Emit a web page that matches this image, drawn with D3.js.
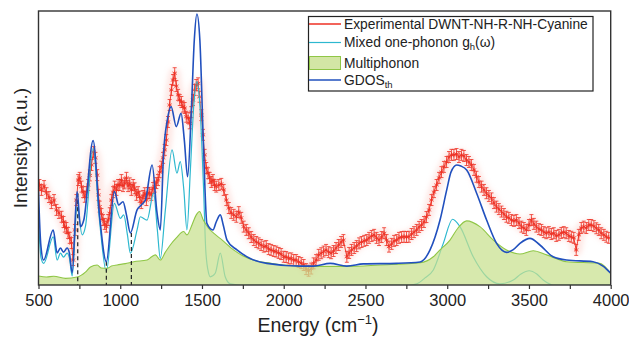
<!DOCTYPE html>
<html>
<head>
<meta charset="utf-8">
<script src="https://cdn.jsdelivr.net/npm/d3@7"></script>
<style>
  body { margin: 0; background: #fff; }
  svg { display: block; }
  text { font-family: "Liberation Sans", Arial, sans-serif; fill: #222; }
</style>
</head>
<body>
<svg width="629" height="338"></svg>
<script>
// experimental points [energy cm-1, intensity a.u.]
var experimental = [[506,36.5],[518,34.7],[534,36.1],[549,33.5],[564,32.1],[579,29.9],[595,31],[610,27.4],[625,26.3],[641,24.9],[653,23],[661,21.3],[671,20.8],[681,19],[691,17.2],[702,15.3],[712,9.1],[723,20.1],[732,31],[743,38.3],[752,39.1],[763,35.9],[773,33.9],[783,32.2],[793,33.9],[804,36.5],[814,40],[824,43.8],[836,48.5],[848,46.4],[859,40.1],[867,32.9],[874,28.6],[885,25.9],[895,23.7],[905,22.3],[915,21.3],[926,23.7],[936,26.2],[946,31],[956,33.9],[966,35.9],[977,34.7],[987,36.5],[997,36.5],[1007,38.3],[1017,36.1],[1027,37.1],[1038,39.1],[1048,36.1],[1058,37.1],[1068,34.7],[1079,36.5],[1088,35.3],[1099,32.9],[1109,33.9],[1119,32.2],[1129,29.9],[1140,32.5],[1150,33.5],[1160,31],[1170,33.6],[1180,33.5],[1190,32.9],[1201,35.4],[1211,35.9],[1221,37.2],[1231,38.3],[1241,41.2],[1251,43.2],[1262,46.4],[1272,49.3],[1282,52.9],[1292,59.5],[1302,65.7],[1313,71.2],[1323,74.8],[1333,77.3],[1343,72.6],[1354,69.4],[1364,67.5],[1374,66.8],[1384,65.1],[1394,64.6],[1404,61.4],[1415,61],[1425,59],[1435,63.1],[1445,67.5],[1455,71.2],[1465,73],[1476,73.6],[1485,68.7],[1496,62],[1506,54.8],[1516,47.5],[1526,42.7],[1537,40.8],[1547,39.1],[1557,37.6],[1567,38.3],[1577,36.5],[1587,35.9],[1603,36.5],[1618,36.9],[1633,34.7],[1649,31],[1664,28.1],[1679,26.3],[1694,25.6],[1710,24.9],[1725,26.6],[1740,24.5],[1755,21.3],[1771,20.1],[1786,18.9],[1801,17.5],[1817,16.4],[1832,15.7],[1847,15.2],[1862,14.6],[1878,14],[1893,14.2],[1908,13.1],[1923,12.8],[1939,12.4],[1954,12.2],[1969,11.7],[1984,11.3],[2000,10.3],[2015,10.2],[2030,9.7],[2046,9.7],[2061,9.1],[2076,9.1],[2091,8.4],[2107,8],[2122,7.3],[2137,5.8],[2152,5.2],[2168,6],[2183,7.9],[2198,9.1],[2214,11],[2229,11.6],[2244,12.2],[2259,12.8],[2275,12],[2290,11.6],[2305,12.4],[2320,13.5],[2336,14.6],[2351,15.7],[2365,16.4],[2386,10.3],[2400,11.7],[2415,12.8],[2431,13.5],[2446,14.2],[2461,15.2],[2476,15.7],[2492,16.1],[2508,16.4],[2522,17.2],[2538,17.9],[2553,18.3],[2568,17.2],[2583,16.4],[2599,17.5],[2614,18.9],[2629,16.4],[2644,14],[2660,15],[2675,16.1],[2691,16.4],[2705,17.2],[2721,17.5],[2736,17.6],[2751,17.5],[2766,17.6],[2782,18.6],[2797,19.3],[2813,20.1],[2828,21.2],[2843,21.9],[2858,23],[2873,24.8],[2889,27.4],[2904,31],[2919,33.9],[2935,36.5],[2950,39.1],[2965,41.2],[2980,43.1],[2996,44.9],[3011,46.7],[3026,47.5],[3041,47.5],[3057,47.8],[3072,46.7],[3087,47.5],[3102,47.1],[3118,45.6],[3133,44.9],[3148,43.8],[3164,42],[3179,39.5],[3194,37.6],[3210,35.9],[3225,34.7],[3240,33.5],[3255,32.5],[3271,31.6],[3286,29.9],[3301,28.6],[3316,27.7],[3332,26.8],[3347,25.9],[3362,24.9],[3377,24.5],[3393,23.7],[3408,23.4],[3423,23.7],[3439,22.6],[3454,21.3],[3469,20.8],[3484,20.1],[3500,21.9],[3515,23.7],[3530,22.3],[3545,21.3],[3561,20.4],[3576,20.1],[3591,19.3],[3606,18.9],[3622,19.3],[3637,18.6],[3652,18.9],[3667,17.9],[3683,18.3],[3698,19],[3713,19.3],[3728,18.9],[3744,17.9],[3759,17.6],[3774,17.2],[3789,12.8],[3805,18.3],[3820,20.8],[3835,21.3],[3851,20.8],[3866,21.9],[3881,21.9],[3897,21.5],[3912,20.7],[3927,20.1],[3942,18.9],[3958,18.3],[3973,17.6],[3988,17.2]];
var expErr = 2.0;

// mixed one-phonon g_h(w)
var onePhonon = [[500,24],[506,17],[515,10],[532,7.9],[590,17.6],[614,9.1],[634,11.6],[653,10.2],[675,11.6],[689,9.9],[706,3.3],[736,28.6],[767,18.3],[787,21.3],[834,49.9],[873,23.7],[915,4.9],[964,29.8],[1001,24.3],[1021,25.6],[1044,18.3],[1062,11.6],[1103,20.1],[1123,24.9],[1164,23.7],[1204,33.5],[1227,20.1],[1245,9.7],[1276,27.4],[1317,49.3],[1347,40.8],[1367,45],[1389,34.7],[1408,20.1],[1429,42],[1450,65.7],[1469,74.2],[1487,65.7],[1510,34.7],[1523,12.8],[1539,4.7],[1551,3],[1581,4.3],[1612,11.6],[1642,3],[1673,0.4],[1734,0],[2773,0],[2814,0.4],[2864,2.6],[2915,5.5],[2976,15.2],[3033,24],[3078,21.3],[3159,10.3],[3241,3],[3322,0.4],[3404,1.8],[3451,4],[3501,5.2],[3548,4],[3587,1.8],[3648,0],[4000,0]];

// multiphonon contribution
var multiPhonon = [[500,3.3],[549,2.9],[593,3.2],[665,2.4],[736,2.9],[787,4.7],[818,6.6],[859,7.3],[885,6.2],[920,6.1],[946,6.9],[981,7.3],[1031,7.8],[1082,8.5],[1164,9.1],[1190,10.2],[1215,11],[1245,9.1],[1276,12],[1306,14.6],[1343,17.2],[1388,19.5],[1408,18.3],[1441,22.3],[1465,25.6],[1485,26.8],[1508,23.7],[1539,20.8],[1571,18.9],[1624,16.4],[1693,12.8],[1752,10.6],[1815,9.1],[1917,8],[1999,7.3],[2180,6.8],[2386,6.8],[2589,7.3],[2834,8.1],[2915,10.3],[2956,12.8],[3017,16.4],[3066,20.8],[3119,23.4],[3200,21.3],[3282,16.4],[3363,12.8],[3445,11.3],[3526,12.5],[3608,11],[3730,8.5],[3933,7.9],[4000,4.3]];

// theoretical GDOS
var gdos = [[500,34],[506,24],[515,14],[531,9.1],[590,20.1],[614,11.7],[634,13.5],[653,12],[675,13.5],[689,11.7],[706,4.4],[736,34.1],[757,21.3],[777,23.7],[834,52.7],[873,25.6],[915,8.5],[964,34.1],[991,29.2],[1017,30.4],[1038,25.6],[1062,19],[1103,27.4],[1129,29.2],[1154,31],[1195,43.8],[1225,26.3],[1245,20.1],[1265,48.1],[1288,60.2],[1311,65.1],[1343,57.8],[1372,62.7],[1392,52.9],[1412,39.5],[1435,63.9],[1453,89.4],[1469,98.9],[1487,89.4],[1508,52.9],[1530,22.5],[1567,20.1],[1587,23],[1612,25.6],[1630,21.9],[1653,16.4],[1714,12.8],[1795,9.7],[1897,7.9],[2101,6.9],[2182,6.9],[2284,7.9],[2386,6.9],[2487,7.7],[2691,7.9],[2834,8.4],[2895,12.8],[2956,23.7],[2997,34.7],[3023,41.2],[3058,43.8],[3084,43.4],[3119,42],[3180,33.5],[3241,23.7],[3302,15.2],[3363,11.9],[3402,12.8],[3445,15.2],[3506,17],[3567,14.6],[3648,10.3],[3730,9.1],[3892,8.5],[3953,6.9],[4000,4.3]];

// dashed guide lines [energy, top intensity]
var dashMarks = [[740, 33.5], [915, 8.5], [1068, 19]];

var xMajor = [500, 1000, 1500, 2000, 2500, 3000, 3500, 4000];
var xMinor = [750, 1250, 1750, 2250, 2750, 3250, 3750];
var legendLabels = ["Experimental DWNT-NH-R-NH-Cyanine", "Mixed one-phonon ", "Multiphonon", "GDOS"];

function drawChart() {
    var svg = d3.select("svg"),
        pLeft = 38.5, pRight = 610.7, pTop = 11, pBottom = 285;

    var x = d3.scaleLinear().domain([500, 4000]).range([pLeft, pRight]);
    var y = d3.scaleLinear().domain([0, 100]).range([pBottom, pTop]);

    var red = "#ee3124", cyan = "#2db8cf", blue = "#2150be", greenFill = "#c8e08e", greenLine = "#8fc646";

    var defs = svg.append("defs");
    defs.append("clipPath").attr("id", "plot")
        .append("rect").attr("x", pLeft).attr("y", pTop).attr("width", pRight - pLeft).attr("height", pBottom - pTop);
    defs.append("filter").attr("id", "blur")
        .attr("x", "-10%").attr("y", "-10%").attr("width", "120%").attr("height", "120%")
        .append("feGaussianBlur").attr("stdDeviation", 2.5);

    var g = svg.append("g").attr("clip-path", "url(#plot)");

    var line = d3.line()
        .x(function (d) { return x(d[0]); })
        .y(function (d) { return y(d[1]); });
    var smooth = d3.line()
        .curve(d3.curveMonotoneX)
        .x(function (d) { return x(d[0]); })
        .y(function (d) { return y(d[1]); });
    var area = d3.area()
        .curve(d3.curveMonotoneX)
        .x(function (d) { return x(d[0]); })
        .y0(pBottom)
        .y1(function (d) { return y(d[1]); });

    // faint pink halo behind experimental data
    g.append("path")
        .datum(experimental)
        .attr("fill", "none")
        .attr("stroke", "#f9b5ad")
        .attr("stroke-opacity", 0.3)
        .attr("stroke-width", 12)
        .attr("stroke-linejoin", "round")
        .attr("filter", "url(#blur)")
        .attr("d", line);

    // experimental line, error bars and markers
    g.append("path")
        .datum(experimental)
        .attr("fill", "none")
        .attr("stroke", red)
        .attr("stroke-width", 0.9)
        .attr("d", line);

    var pts = g.selectAll(".pt")
        .data(experimental)
        .enter().append("g")
        .attr("class", "pt")
        .attr("stroke", red)
        .attr("stroke-width", 0.8);

    pts.append("line")
        .attr("x1", function (d) { return x(d[0]); })
        .attr("x2", function (d) { return x(d[0]); })
        .attr("y1", function (d) { return y(d[1] - expErr); })
        .attr("y2", function (d) { return y(d[1] + expErr); });
    pts.append("line")
        .attr("x1", function (d) { return x(d[0]) - 2; })
        .attr("x2", function (d) { return x(d[0]) + 2; })
        .attr("y1", function (d) { return y(d[1] + expErr); })
        .attr("y2", function (d) { return y(d[1] + expErr); });
    pts.append("line")
        .attr("x1", function (d) { return x(d[0]) - 2; })
        .attr("x2", function (d) { return x(d[0]) + 2; })
        .attr("y1", function (d) { return y(d[1] - expErr); })
        .attr("y2", function (d) { return y(d[1] - expErr); });
    pts.append("path")
        .attr("transform", function (d) { return "translate(" + x(d[0]) + "," + y(d[1]) + ")"; })
        .attr("fill", "none")
        .attr("d", d3.symbol(d3.symbolAsterisk, 18));

    // one-phonon line (under the multiphonon fill)
    g.append("path")
        .datum(onePhonon)
        .attr("fill", "none")
        .attr("stroke", cyan)
        .attr("stroke-width", 1.2)
        .attr("d", smooth);

    // multiphonon fill
    g.append("path")
        .datum(multiPhonon)
        .attr("fill", greenFill)
        .attr("fill-opacity", 0.72)
        .attr("d", area);
    g.append("path")
        .datum(multiPhonon)
        .attr("fill", "none")
        .attr("stroke", greenLine)
        .attr("stroke-width", 1.1)
        .attr("d", smooth);

    // dashed guides
    g.selectAll(".dash")
        .data(dashMarks)
        .enter().append("line")
        .attr("class", "dash")
        .attr("x1", function (d) { return x(d[0]); })
        .attr("x2", function (d) { return x(d[0]); })
        .attr("y1", function (d) { return y(d[1]); })
        .attr("y2", pBottom)
        .attr("stroke", "#222")
        .attr("stroke-width", 1.2)
        .attr("stroke-dasharray", "4,3");

    // GDOS
    g.append("path")
        .datum(gdos)
        .attr("fill", "none")
        .attr("stroke", blue)
        .attr("stroke-width", 1.6)
        .attr("d", smooth);

    // frame
    svg.append("rect")
        .attr("x", pLeft).attr("y", pTop)
        .attr("width", pRight - pLeft).attr("height", pBottom - pTop)
        .attr("fill", "none")
        .attr("stroke", "#333")
        .attr("stroke-width", 1.4);

    // x axis
    var xAxis = svg.append("g")
        .attr("transform", "translate(0," + pBottom + ")")
        .call(d3.axisBottom(x)
            .tickValues(xMajor.concat(xMinor))
            .tickFormat(function (d) { return xMajor.indexOf(d) >= 0 ? d : ""; })
            .tickSize(4)
            .tickPadding(5));
    xAxis.select(".domain").remove();
    xAxis.selectAll("line").attr("stroke", "#333").attr("stroke-width", 1.2);
    xAxis.selectAll("text").style("font-size", "16.5px").attr("fill", "#222");

    // axis titles
    var xt = svg.append("text")
        .attr("x", 318)
        .attr("y", 332)
        .attr("text-anchor", "middle")
        .style("font-size", "19.5px");
    xt.append("tspan").text("Energy (cm");
    xt.append("tspan").attr("dy", -8).style("font-size", "13px").text("\u22121");
    xt.append("tspan").attr("dy", 8).text(")");

    svg.append("text")
        .attr("transform", "translate(27," + ((pTop + pBottom) / 2) + ") rotate(-90)")
        .attr("text-anchor", "middle")
        .style("font-size", "19px")
        .text("Intensity (a.u.)");

    // legend
    var lg = svg.append("g");
    lg.append("rect")
        .attr("x", 308.5).attr("y", 16.5)
        .attr("width", 284.5).attr("height", 74.5)
        .attr("fill", "#fff")
        .attr("stroke", "#222")
        .attr("stroke-width", 1.2);

    var rows = [24, 42.5, 63, 80];
    lg.append("line").attr("x1", 309).attr("x2", 341).attr("y1", rows[0]).attr("y2", rows[0])
        .attr("stroke", red).attr("stroke-width", 1.5);
    lg.append("line").attr("x1", 309).attr("x2", 341).attr("y1", rows[1]).attr("y2", rows[1])
        .attr("stroke", cyan).attr("stroke-width", 1.2);
    lg.append("rect").attr("x", 309.5).attr("y", rows[2] - 6.5).attr("width", 31).attr("height", 13)
        .attr("fill", greenFill).attr("fill-opacity", 0.8).attr("stroke", greenLine);
    lg.append("line").attr("x1", 309).attr("x2", 341).attr("y1", rows[3]).attr("y2", rows[3])
        .attr("stroke", blue).attr("stroke-width", 1.5);

    var lt = lg.selectAll(".lt")
        .data(legendLabels)
        .enter().append("text")
        .attr("class", "lt")
        .attr("x", 344)
        .attr("y", function (d, i) { return rows[i]; })
        .attr("dy", "0.36em")
        .style("font-size", "13.8px")
        .text(function (d) { return d; });

    var t1 = d3.select(lt.nodes()[1]);
    t1.append("tspan").text("g");
    t1.append("tspan").attr("dy", 3).style("font-size", "9.5px").text("h");
    t1.append("tspan").attr("dy", -3).text("(\u03c9)");
    var t3 = d3.select(lt.nodes()[3]);
    t3.append("tspan").attr("dy", 3).style("font-size", "9.5px").text("th");
}

drawChart();
</script>
</body>
</html>
